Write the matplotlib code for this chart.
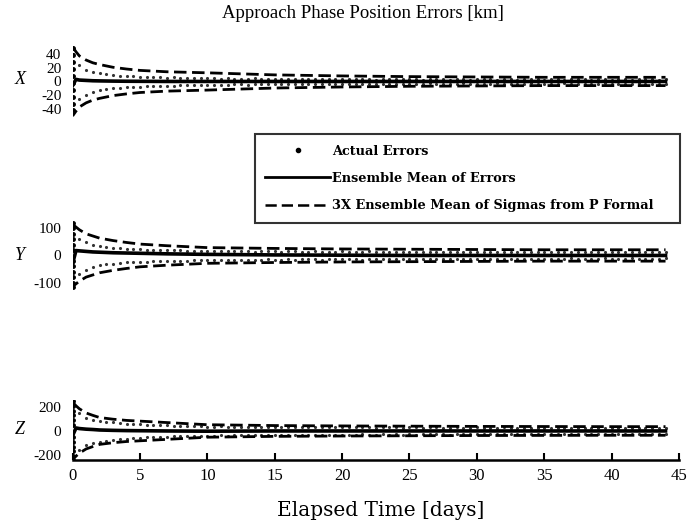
import numpy as np
import matplotlib
matplotlib.use("Agg")
import matplotlib.pyplot as plt
from matplotlib.lines import Line2D

# --- data (km vs. days) -------------------------------------------------
t_sig = [0, 0.25, 0.5, 1, 1.5, 2, 3, 4, 5, 7, 10, 15, 20, 25, 30, 35, 40, 44]

# 3x ensemble mean of formal sigmas
sig3_x = [50, 43, 37, 31, 27, 24.5, 20.5, 18, 16, 14, 12.5, 9.5, 8, 7, 6.5, 6, 6, 6]
sig3_y = [115, 105, 95, 80, 72, 64, 55, 48, 42, 36, 29, 26, 24, 23, 22, 21, 21, 21]
sig3_z = [240, 210, 185, 150, 130, 112, 98, 88, 82, 70, 52, 45, 42, 40, 38, 37, 36, 36]

# ensemble mean of errors
mean_x = [-6, 3, 2, 1.5, 1, 0.8, 0.5, 0.3, 0.2, 0, 0, 0, 0, 0, 0, 0, 0, 0]
mean_y = [-30, 18, 17, 15, 13, 12, 10, 9, 8, 6, 4, 2, 1, 0, 0, 0, 0, 0]
mean_z = [-40, 25, 20, 15, 12, 8, 5, 3, 2, 0, -2, 0, 0, 0, 0, 0, 0, 0]

# actual errors, sampled every half day
t_err = np.arange(0, 44.5, 0.5)

err_x_a = [40, 24, 17, 14, 12, 10.5, 9.5, 8.5, 8, 7.5,
           7, 6.5, 6.5, 6, 5.5, 6, 5.5, 5, 5, 4.5,
           5, 4.5, 4, 4.5, 4, 3.5, 4, 4.5, 4, 3.5,
           4, 3.5, 3, 3.5, 4, 3.5, 3, 3.5, 3, 3.5,
           3, 3.5, 4, 3.5, 3, 2.5, 3, 3.5, 3, 3,
           3.5, 3, 2.5, 3, 3.5, 3, 2.5, 3, 3, 2.5,
           3, 3.5, 3, 2.5, 3, 3, 2.5, 3, 3.5, 3,
           2.5, 3, 3, 2.5, 3, 3.5, 3, 2.5, 3, 3,
           2.5, 3, 3, 2.5, 3, 3.5, 3, 2.5, 3]
err_x_b = [-42, -26, -19, -15, -13, -11.5, -10, -9, -8.5, -8,
           -7.5, -7, -7, -6.5, -6, -6, -5.5, -5.5, -5, -5,
           -5, -4.5, -5, -4.5, -4, -4, -4.5, -4, -3.5, -4,
           -4, -3.5, -4, -3.5, -3, -3.5, -4, -3.5, -3, -3.5,
           -3, -3.5, -3, -3.5, -4, -3.5, -3, -3, -3.5, -3,
           -3, -3.5, -3, -2.5, -3, -3.5, -3, -3, -2.5, -3,
           -3.5, -3, -3, -2.5, -3, -3, -3.5, -3, -2.5, -3,
           -3, -3.5, -3, -2.5, -3, -3, -3.5, -3, -3, -2.5,
           -3, -3.5, -3, -3, -2.5, -3, -3, -3.5, -3]

err_y_a = [110, 60, 48, 40, 36, 32, 29, 27, 25, 24,
           23, 22, 21, 21, 20, 19, 19, 18, 18, 17,
           17, 16, 17, 16, 15, 16, 15, 14, 15, 16,
           15, 14, 15, 16, 14, 13, 15, 14, 13, 14,
           15, 14, 13, 14, 15, 13, 12, 14, 13, 14,
           13, 12, 14, 13, 12, 13, 14, 12, 13, 12,
           13, 14, 12, 13, 12, 13, 12, 14, 13, 12,
           12, 13, 12, 11, 13, 12, 13, 12, 11, 12,
           13, 12, 11, 12, 13, 12, 11, 12, 12]
err_y_b = [-115, -70, -52, -42, -37, -33, -30, -28, -26, -25,
           -24, -23, -22, -21, -21, -20, -19, -19, -18, -18,
           -17, -17, -16, -17, -16, -15, -16, -15, -15, -14,
           -15, -16, -14, -15, -14, -13, -14, -15, -14, -13,
           -14, -13, -14, -15, -13, -14, -13, -12, -13, -14,
           -13, -12, -13, -14, -12, -13, -12, -13, -14, -12,
           -13, -12, -13, -12, -14, -13, -12, -13, -12, -13,
           -12, -13, -12, -13, -11, -12, -13, -12, -12, -11,
           -12, -13, -12, -11, -12, -12, -13, -12, -11]

err_z_a = [230, 150, 110, 95, 85, 78, 72, 66, 62, 58,
           55, 52, 50, 48, 46, 44, 42, 41, 40, 38,
           37, 36, 38, 35, 34, 36, 33, 34, 35, 32,
           33, 34, 31, 32, 33, 30, 31, 32, 30, 31,
           32, 30, 29, 31, 30, 28, 30, 31, 29, 28,
           30, 29, 28, 30, 29, 27, 28, 29, 27, 28,
           29, 28, 27, 28, 29, 27, 28, 26, 27, 28,
           27, 26, 28, 27, 26, 27, 28, 26, 27, 26,
           27, 26, 27, 28, 26, 27, 26, 27, 26]
err_z_b = [-235, -160, -120, -100, -88, -80, -74, -68, -64, -60,
           -57, -54, -51, -49, -47, -45, -44, -42, -41, -40,
           -39, -38, -37, -38, -36, -35, -36, -34, -35, -33,
           -34, -33, -32, -34, -31, -32, -33, -30, -31, -32,
           -31, -30, -32, -29, -30, -31, -29, -30, -28, -30,
           -29, -30, -28, -29, -27, -28, -30, -28, -27, -29,
           -28, -27, -29, -28, -26, -27, -28, -27, -26, -28,
           -27, -28, -26, -27, -28, -26, -27, -26, -27, -28,
           -26, -27, -28, -26, -27, -26, -27, -26, -27]

# spread of the ensemble at the first epoch
t_init = 0.05
init_x = [48, 38, 28, 18, 8, -2, -12, -22, -32, -42]
init_y = [120, 100, 80, 60, 40, 20, -20, -40, -60, -80, -100, -115]
init_z = [250, 210, 170, 130, 90, 50, -50, -90, -130, -170, -210, -240]

panels = [
    ("X", sig3_x, mean_x, err_x_a, err_x_b, init_x, (-55.8, 60), [40, 20, 0, -20, -40], (40, 120)),
    ("Y", sig3_y, mean_y, err_y_a, err_y_b, init_y, (-135, 131), [100, 0, -100], (220, 292)),
    ("Z", sig3_z, mean_z, err_z_a, err_z_b, init_z, (-242, 258), [200, 0, -200], (400, 460)),
]

W, H = 687, 525
fig = plt.figure(figsize=(W / 100, H / 100), dpi=100)
serif = "Liberation Serif"
dash = (0, (4.5, 2))

for name, sig3, mean, ea, eb, init, ylim, yticks, (top, bot) in panels:
    ax = fig.add_axes([72.6 / W, 1 - bot / H, 606.4 / W, (bot - top) / H])
    neg = [-v for v in sig3]
    ax.plot(t_err, ea, ".", color="0.2", ms=4.5, mew=0)
    ax.plot(t_err, eb, ".", color="0.2", ms=4.5, mew=0)
    ax.plot([t_init] * len(init), init, ".", color="black", ms=5)
    ax.plot(t_sig, sig3, color="black", lw=2, ls=dash)
    ax.plot(t_sig, neg, color="black", lw=2, ls=(2, (4.5, 2)))
    ax.plot(t_sig, mean, color="black", lw=2.6)
    ax.set_xlim(0, 45)
    ax.set_ylim(*ylim)
    ax.set_yticks(yticks)
    ax.set_yticklabels([str(v) for v in yticks], fontfamily=serif, fontsize=11)
    ax.tick_params(axis="y", length=0, pad=8)
    for s in ax.spines.values():
        s.set_visible(False)
    if name == "Z":
        ax.spines["bottom"].set_visible(True)
        ax.spines["bottom"].set_linewidth(1.8)
        ax.set_xticks(range(0, 50, 5))
        ax.set_xticklabels([str(v) for v in range(0, 50, 5)], fontfamily=serif, fontsize=12)
        ax.tick_params(axis="x", direction="in", length=5, width=1.5, pad=6)
    else:
        ax.set_xticks([])
    centre = 1 - (top + bot) / 2 / H
    fig.text(20 / W, centre, name, fontfamily=serif, fontstyle="italic",
             fontsize=13, ha="center", va="center")

fig.text(363 / W, 1 - 13 / H, "Approach Phase Position Errors [km]",
         fontfamily=serif, fontsize=13.5, ha="center", va="center")
fig.text(381 / W, 1 - 510 / H, "Elapsed Time [days]",
         fontfamily="DejaVu Serif", fontsize=14.5, ha="center", va="center")

handles = [
    Line2D([], [], ls="none", marker=".", color="black", ms=6),
    Line2D([], [], color="black", lw=2),
    Line2D([], [], color="black", lw=1.8, ls=dash),
]
labels = ["Actual Errors", "Ensemble Mean of Errors",
          "3X Ensemble Mean of Sigmas from P Formal"]
leg = fig.legend(handles, labels, loc="upper left",
                 bbox_to_anchor=(255 / W, 1 - 135 / H, 425 / W, 0.001), mode="expand",
                 prop={"family": "DejaVu Serif", "weight": "bold", "size": 9.3},
                 frameon=True, fancybox=False, edgecolor="black",
                 handlelength=5.0, handletextpad=0.2, labelspacing=1.1,
                 borderpad=0.8, borderaxespad=0)
leg._legend_box.align = "left"
leg.get_frame().set_linewidth(1.5)

fig.savefig("out.png", dpi=100)
